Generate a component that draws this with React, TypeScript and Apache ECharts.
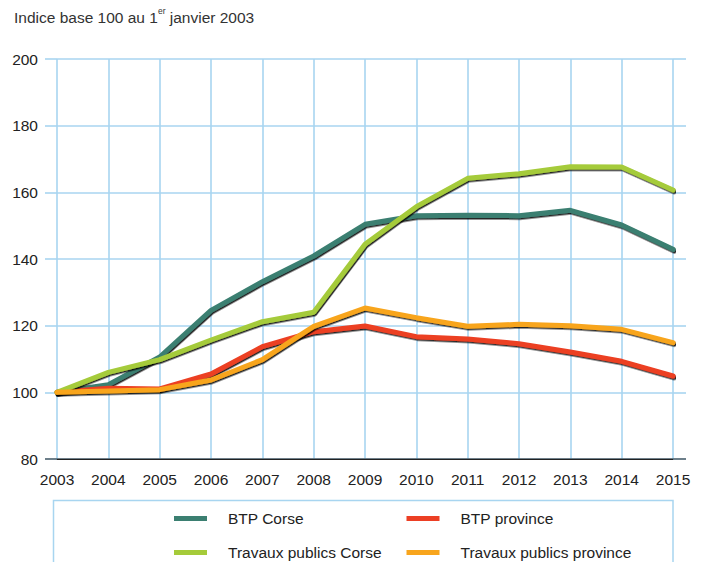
import React, { useEffect, useRef } from "react";
import * as echarts from "echarts";

const years = ["2003","2004","2005","2006","2007","2008","2009","2010","2011","2012","2013","2014","2015"];
const btpCorse = [100, 102.3, 110.6, 124.6, 133.2, 140.9, 150.4, 153.0, 153.1, 153.0, 154.6, 150.2, 142.9];
const btpProvince = [100, 101.2, 101.0, 105.5, 113.7, 118.2, 119.9, 116.7, 116.0, 114.6, 112.1, 109.3, 104.9];
const tpCorse = [100, 106.0, 109.8, 115.7, 121.2, 124.0, 144.4, 155.7, 164.2, 165.6, 167.7, 167.6, 160.7];
const tpProvince = [100, 100.4, 100.8, 103.7, 109.8, 119.8, 125.3, 122.4, 119.8, 120.4, 120.0, 118.9, 114.9];

const seriesNames = ["BTP Corse", "BTP province", "Travaux publics Corse", "Travaux publics province"];
const seriesColors = ["#3b7f71", "#ec3f24", "#a5cb3a", "#f8a51d"];
const seriesData = [btpCorse, btpProvince, tpCorse, tpProvince];

const FONT = "'Liberation Sans', Arial, sans-serif";
const FS = 15.5;
const GRID_BLUE = "#a8d5f0";

export default function App() {
  const ref = useRef<HTMLDivElement>(null);
  useEffect(() => {
    if (!ref.current) return;
    const chart = echarts.init(ref.current, null, { renderer: "svg" });
    const legendBase = {
      orient: "vertical",
      padding: 0,
      height: 80,
      icon: "rect",
      itemWidth: 33,
      itemHeight: 5,
      itemGap: 14,
      selectedMode: false,
      textStyle: {
        fontFamily: FONT,
        fontSize: FS,
        color: "#222",
        lineHeight: 20,
        padding: [0, 0, 0, 16],
      },
    };
    chart.setOption({
      animation: false,
      backgroundColor: "#fff",
      textStyle: { fontFamily: FONT },
      title: {
        left: 14,
        top: 6,
        padding: 0,
        text: "Indice base 100 au 1{sup|er} janvier 2003",
        textStyle: {
          fontFamily: FONT,
          fontSize: FS,
          fontWeight: "normal",
          color: "#333",
          lineHeight: 22,
          rich: {
            sup: { fontFamily: FONT, fontSize: 8.5, color: "#333", verticalAlign: "top", lineHeight: 22, padding: [0, 0, 8, 0] },
          },
        },
      },
      grid: { left: 57, right: 31, top: 59, bottom: 103, containLabel: false },
      legend: [
        { ...legendBase, left: 174, top: 508.5, data: [seriesNames[0], seriesNames[2]] },
        { ...legendBase, left: 406.5, top: 508.5, data: [seriesNames[1], seriesNames[3]] },
      ],
      xAxis: {
        type: "category",
        data: years,
        boundaryGap: false,
        axisLine: { show: true, lineStyle: { color: "#222", width: 1.2 } },
        axisTick: { show: false },
        axisLabel: { fontFamily: FONT, fontSize: FS, color: "#222", margin: 12, interval: 0 },
        splitLine: { show: true, interval: 0, lineStyle: { color: GRID_BLUE, width: 1.6 } },
      },
      yAxis: [
        {
          type: "value",
          min: 80,
          max: 200,
          interval: 20,
          axisLine: { show: false },
          axisTick: { show: true, length: 12, lineStyle: { color: GRID_BLUE, width: 1.6 } },
          axisLabel: { fontFamily: FONT, fontSize: FS, color: "#222", margin: 19 },
          splitLine: { show: true, lineStyle: { color: GRID_BLUE, width: 1.6 } },
        },
        {
          type: "value",
          position: "right",
          min: 80,
          max: 200,
          interval: 20,
          axisLine: { show: false },
          axisTick: { show: true, length: 13, lineStyle: { color: GRID_BLUE, width: 1.6 } },
          axisLabel: { show: false },
          splitLine: { show: false },
        },
      ],
      graphic: [
        {
          type: "rect",
          shape: { x: 53.5, y: 500.5, width: 619.5, height: 80 },
          style: { fill: "none", stroke: GRID_BLUE, lineWidth: 1.5 },
          silent: true,
        },
        {
          type: "line",
          shape: { x1: 45, y1: 459, x2: 686, y2: 459 },
          style: { stroke: "#222", lineWidth: 1.2 },
          z: 10,
          silent: true,
        },
      ],
      series: seriesData.map((d, i) => ({
        name: seriesNames[i],
        type: "line",
        data: d,
        yAxisIndex: 0,
        symbol: "none",
        color: seriesColors[i],
        lineStyle: {
          width: 5,
          color: seriesColors[i],
          shadowColor: "rgba(0,0,0,0.85)",
          shadowOffsetX: 1,
          shadowOffsetY: 1.5,
          shadowBlur: 1,
          cap: "round",
        },
        z: 3 + i,
      })),
    });
    return () => chart.dispose();
  }, []);
  return <div ref={ref} style={{ width: 704, height: 562, position: "absolute", left: 0, top: 0 }} />;
}
